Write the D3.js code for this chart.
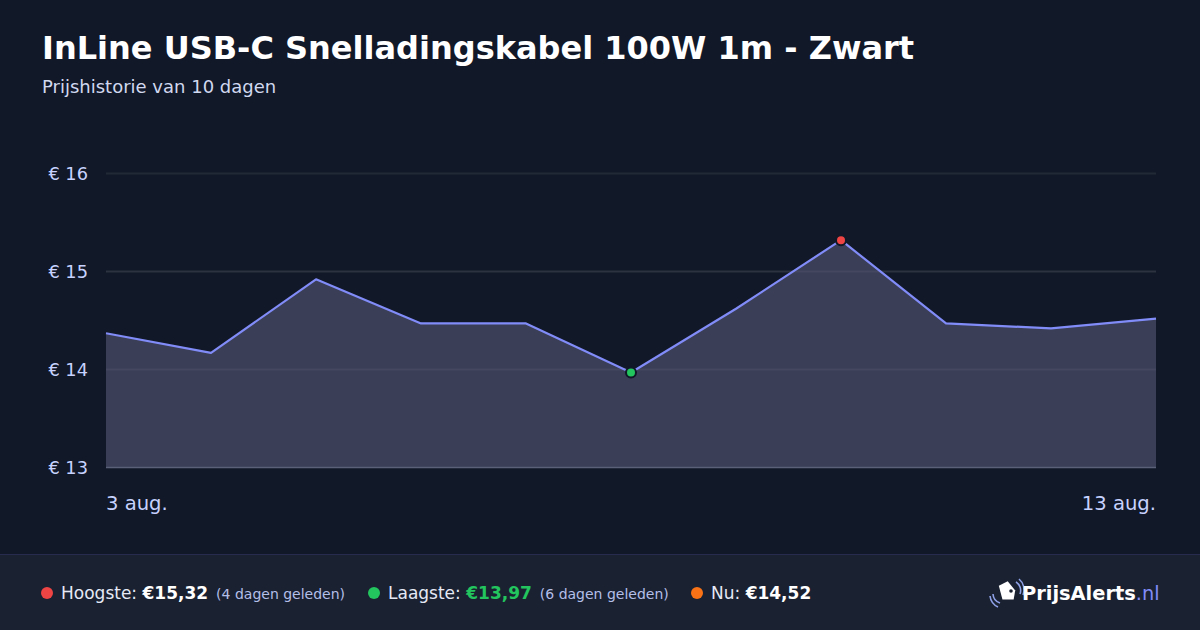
<!DOCTYPE html>
<html><head><meta charset="utf-8">
<script src="https://cdn.jsdelivr.net/npm/d3@7"></script>
<style>
html,body{margin:0;padding:0;background:#111827;}
svg{display:block;font-family:"DejaVu Sans",sans-serif;}
</style></head>
<body>
<svg id="c" width="1200" height="630"></svg>
<script>
const dates = ["3 aug.","4 aug.","5 aug.","6 aug.","7 aug.","8 aug.","9 aug.","10 aug.","11 aug.","12 aug.","13 aug."];
const prices = [14.37,14.17,14.92,14.47,14.47,13.97,14.62,15.32,14.47,14.42,14.52];
const yTicks = [13,14,15,16];
const xTickLabels = ["3 aug.","13 aug."];
const title = "InLine USB-C Snelladingskabel 100W 1m - Zwart";
const subtitle = "Prijshistorie van 10 dagen";

const svg = d3.select("#c");
svg.append("rect").attr("width",1200).attr("height",630).attr("fill","#111827");

svg.append("text").attr("x",42).attr("y",59).attr("fill","#ffffff")
  .attr("font-size",32).attr("font-weight","bold").text(title);
svg.append("text").attr("x",42).attr("y",93).attr("fill","#d1d9f0")
  .attr("font-size",18).text(subtitle);

const x = d3.scalePoint().domain(d3.range(dates.length)).range([106,1156]);
const y = d3.scaleLinear().domain([13,16]).range([467.5,173.5]);

const g = svg.append("g");
// gridlines
g.selectAll("line.grid").data(yTicks.filter(d=>d!==13)).join("line")
  .attr("x1",106).attr("x2",1156)
  .attr("y1",d=>y(d)).attr("y2",d=>y(d))
  .attr("stroke","#ffffff").attr("stroke-opacity",0.07).attr("stroke-width",2);

// area
const area = d3.area().x((d,i)=>x(i)).y0(y(13)).y1(d=>y(d));
g.append("path").datum(prices).attr("d",area).attr("fill","#3a3e57");
// gridlines visible inside area
g.selectAll("line.grid2").data(yTicks.filter(d=>d!==13&&d!==16)).join("line")
  .attr("x1",106).attr("x2",1156)
  .attr("y1",d=>y(d)).attr("y2",d=>y(d))
  .attr("stroke","#ffffff").attr("stroke-opacity",0.05).attr("stroke-width",2);
// baseline
g.append("line").attr("x1",106).attr("x2",1156).attr("y1",y(13)).attr("y2",y(13))
  .attr("stroke","#5a6078").attr("stroke-width",1.5);

const line = d3.line().x((d,i)=>x(i)).y(d=>y(d));
g.append("path").datum(prices).attr("d",line).attr("fill","none")
  .attr("stroke","#818cf8").attr("stroke-width",2.2).attr("stroke-linejoin","round");

// y labels
g.selectAll("text.yl").data(yTicks).join("text")
  .attr("x",88).attr("y",d=>y(d)+6).attr("text-anchor","end")
  .attr("fill","#c7d2fe").attr("font-size",17.8).text(d=>"€ "+d);
// x labels
g.append("text").attr("x",106).attr("y",510).attr("fill","#c7d2fe").attr("font-size",19.6).text(xTickLabels[0]);
g.append("text").attr("x",1156).attr("y",510).attr("text-anchor","end").attr("fill","#c7d2fe").attr("font-size",19.6).text(xTickLabels[1]);

// markers
const maxI = prices.indexOf(d3.max(prices));
const minI = prices.indexOf(d3.min(prices));
[[minI,"#22c55e"],[maxI,"#ef4444"]].forEach(([i,c])=>{
  g.append("circle").attr("cx",x(i)).attr("cy",y(prices[i])).attr("r",5)
    .attr("fill",c).attr("stroke","#111827").attr("stroke-width",2);
});

// footer
svg.append("rect").attr("x",0).attr("y",554).attr("width",1200).attr("height",76).attr("fill","#1a2131");
svg.append("line").attr("x1",0).attr("x2",1200).attr("y1",554.5).attr("y2",554.5).attr("stroke","#272c4e").attr("stroke-width",1);

const fy = 599;
const fmt = v => "€" + v.toFixed(2).replace(".",",");
function item(xp, color, label, val, valColor, note){
  svg.append("circle").attr("cx",xp+6).attr("cy",fy-6).attr("r",6).attr("fill",color);
  const t = svg.append("text").attr("x",xp+20).attr("y",fy).attr("font-size",17).attr("fill","#e5e9f5");
  t.append("tspan").text(label+" ");
  t.append("tspan").attr("font-weight","bold").attr("fill",valColor).text(val);
  if(note) t.append("tspan").attr("dx",8).attr("font-size",14).attr("fill","#b4bfe8").text(note);
}
item(41,"#ef4444","Hoogste:",fmt(prices[maxI]),"#ffffff","(4 dagen geleden)");
item(368,"#22c55e","Laagste:",fmt(prices[minI]),"#22c55e","(6 dagen geleden)");
item(691,"#f97316","Nu:",fmt(prices[prices.length-1]),"#ffffff",null);

// logo
const lg = svg.append("g").attr("transform","translate(990,578)");
lg.append("path").attr("d","M8,9 L16,3 L25,11 L25,20 L14,22 Z").attr("fill","#ffffff").attr("transform","rotate(10,16,13)");
lg.append("circle").attr("cx",21).attr("cy",13).attr("r",1.8).attr("fill","#1a2131");
lg.append("path").attr("d","M26,4 A10,10 0 0 1 30,16").attr("fill","none").attr("stroke","#8ea0e6").attr("stroke-width",1.6);
lg.append("path").attr("d","M29,1 A14,14 0 0 1 33,17").attr("fill","none").attr("stroke","#8ea0e6").attr("stroke-width",1.6);
lg.append("path").attr("d","M3,16 A10,10 0 0 0 10,25").attr("fill","none").attr("stroke","#8ea0e6").attr("stroke-width",1.6);
lg.append("path").attr("d","M0,18 A14,14 0 0 0 8,29").attr("fill","none").attr("stroke","#8ea0e6").attr("stroke-width",1.6);
const lt = svg.append("text").attr("x",1022).attr("y",600).attr("font-size",19.4);
lt.append("tspan").attr("font-weight","bold").attr("fill","#ffffff").text("PrijsAlerts");
lt.append("tspan").attr("fill","#818cf8").text(".nl");
</script>
</body></html>
